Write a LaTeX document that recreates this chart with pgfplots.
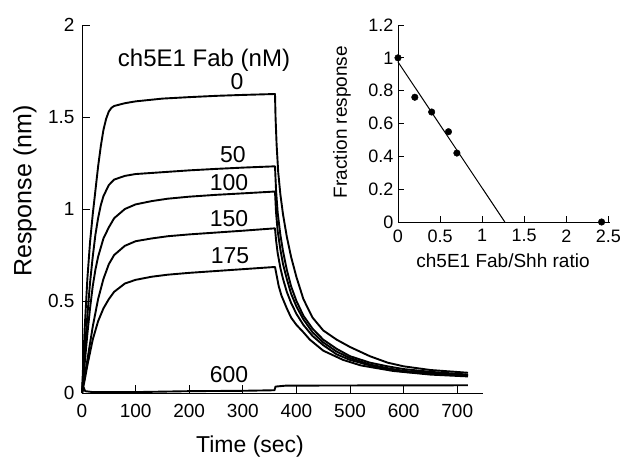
\documentclass[border=0pt]{standalone}
\usepackage{fontspec}
\setmainfont{Liberation Sans}
\usepackage{pgfplots}
\pgfplotsset{compat=1.18}
\tikzset{curve/.style={black, no markers, line width=1.9pt, line join=round}}
\begin{document}
\begin{tikzpicture}
\useasboundingbox (0,0) rectangle (624pt,-458pt);
\begin{axis}[
  at={(82pt,-393pt)}, anchor=south west,
  scale only axis, width=401pt, height=368pt,
  xmin=0, xmax=748, ymin=0, ymax=2,
  axis x line=bottom, axis y line=left,
  axis line style={-, line width=0.9pt},
  xtick={0,100,...,700}, ytick={0,0.5,1,1.5,2},
  tick style={line width=0.9pt, black}, major tick length=8pt,
  tick align=inside,
  /pgf/number format/assume math mode=true,
  ticklabel style={font=\fontsize{19}{22}\selectfont},
  xticklabel style={yshift=-8pt},
  yticklabel style={xshift=-4pt},
  clip=false,
]
% 0 nM
\addplot[curve] coordinates {(0,0)(5,0.35)(10,0.62)(15,0.82)(20,0.97)(25,1.1)(30,1.23)(35,1.34)(40,1.43)(45,1.49)(50,1.53)(55,1.55)(60,1.56)(80,1.575)(100,1.585)(150,1.6)(200,1.608)(250,1.615)(300,1.62)(360,1.625)
 (361,1.5)(363,1.35)(366,1.2)(370,1.08)(375,0.97)(382,0.85)(390,0.74)(400,0.63)(413,0.51)(430,0.41)(450,0.34)(475,0.29)(500,0.25)(537,0.2)(570,0.165)(600,0.145)(650,0.125)(720,0.11)};
% 50 nM
\addplot[curve] coordinates {(0,0)(5,0.22)(10,0.42)(15,0.6)(20,0.74)(25,0.86)(30,0.95)(35,1.02)(40,1.07)(45,1.1)(50,1.13)(60,1.16)(80,1.18)(100,1.19)(150,1.2)(200,1.21)(250,1.218)(300,1.225)(360,1.232)
 (362,1.1)(365,0.98)(370,0.86)(375,0.77)(382,0.67)(390,0.58)(400,0.5)(413,0.42)(430,0.35)(450,0.29)(475,0.24)(500,0.2)(537,0.165)(570,0.145)(600,0.13)(650,0.115)(720,0.1)};
% 100 nM
\addplot[curve] coordinates {(0,0)(5,0.16)(10,0.32)(15,0.46)(20,0.58)(25,0.67)(30,0.74)(40,0.84)(50,0.9)(60,0.95)(80,1.0)(100,1.025)(130,1.043)(160,1.056)(200,1.067)(250,1.077)(300,1.085)(360,1.095)
 (362,0.98)(365,0.88)(370,0.78)(375,0.7)(382,0.62)(390,0.54)(400,0.47)(413,0.4)(430,0.33)(450,0.275)(475,0.225)(500,0.19)(537,0.155)(570,0.135)(600,0.12)(650,0.11)(720,0.095)};
% 150 nM
\addplot[curve] coordinates {(0,0)(5,0.09)(10,0.18)(15,0.27)(20,0.36)(30,0.51)(40,0.62)(50,0.7)(60,0.75)(80,0.8)(100,0.825)(130,0.84)(160,0.852)(200,0.862)(250,0.872)(300,0.882)(360,0.895)
 (362,0.83)(365,0.76)(370,0.68)(375,0.62)(382,0.55)(390,0.49)(400,0.43)(413,0.37)(430,0.31)(450,0.26)(475,0.21)(500,0.18)(537,0.15)(570,0.13)(600,0.115)(650,0.105)(720,0.095)};
% 175 nM
\addplot[curve] coordinates {(0,0)(5,0.07)(10,0.15)(15,0.22)(20,0.29)(30,0.39)(40,0.46)(50,0.51)(60,0.55)(80,0.595)(100,0.615)(130,0.632)(160,0.643)(200,0.653)(250,0.663)(300,0.673)(360,0.685)
 (363,0.64)(367,0.58)(372,0.53)(382,0.46)(390,0.41)(400,0.37)(413,0.33)(425,0.29)(450,0.23)(487,0.18)(520,0.15)(580,0.12)(650,0.1)(720,0.09)};
% 600 nM
\addplot[curve] coordinates {(0,0)(3,0.03)(6,0.01)(20,0.005)(100,0.005)(200,0.01)(300,0.012)(359,0.015)(361,0.035)(380,0.04)(500,0.041)(720,0.042)};
\end{axis}

\begin{axis}[
  at={(398pt,-222pt)}, anchor=south west,
  scale only axis, width=212pt, height=197pt,
  xmin=0, xmax=2.52, ymin=0, ymax=1.2,
  axis x line=bottom, axis y line=left,
  axis line style={-, line width=0.9pt},
  xtick={0,0.5,1,1.5,2,2.5}, ytick={0,0.2,0.4,0.6,0.8,1,1.2},
  tick style={line width=0.9pt, black}, major tick length=6pt,
  tick align=inside,
  /pgf/number format/assume math mode=true,
  ticklabel style={font=\fontsize{18}{21}\selectfont},
  xticklabel style={yshift=-4pt},
  yticklabel style={xshift=-1pt},
  clip=false,
]
\addplot[black, no markers, line width=1pt] coordinates {(0,0.975)(1.27,0)};
\addplot[only marks, mark=*, mark size=3.3pt, black] coordinates {(0,1.0)(0.2,0.76)(0.4,0.67)(0.6,0.55)(0.7,0.42)(2.42,0)};
\end{axis}

\node[rotate=90, font=\fontsize{25}{30}\selectfont] at (25pt,-191pt) {Response (nm)};
\node[anchor=base, font=\fontsize{23}{28}\selectfont] at (250pt,-452pt) {Time (sec)};
\node[anchor=base, font=\fontsize{24}{28}\selectfont] at (204pt,-66pt) {ch5E1 Fab (nM)};
\node[anchor=base, font=\fontsize{23}{28}\selectfont] at (237pt,-89pt) {0};
\node[anchor=base, font=\fontsize{23}{28}\selectfont] at (233pt,-162pt) {50};
\node[anchor=base, font=\fontsize{23}{28}\selectfont] at (229pt,-190pt) {100};
\node[anchor=base, font=\fontsize{23}{28}\selectfont] at (229pt,-226pt) {150};
\node[anchor=base, font=\fontsize{23}{28}\selectfont] at (230pt,-263pt) {175};
\node[anchor=base, font=\fontsize{23}{28}\selectfont] at (229pt,-382pt) {600};
\node[rotate=90, font=\fontsize{19}{22}\selectfont] at (342pt,-122pt) {Fraction response};
\node[anchor=base, font=\fontsize{19}{22}\selectfont] at (503pt,-267pt) {ch5E1 Fab/Shh ratio};
\end{tikzpicture}
\end{document}
